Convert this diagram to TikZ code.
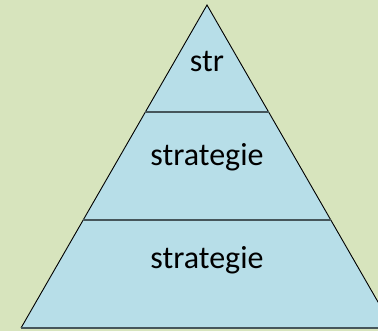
\documentclass[tikz,border=0pt]{standalone}
\usepackage{fontspec}
\setmainfont{Carlito}
\definecolor{bg}{HTML}{D7E4BD}
\definecolor{tier}{HTML}{B7DEE8}
\definecolor{divider}{HTML}{46565B}
\begin{document}
\begin{tikzpicture}[x=1pt,y=1pt,
  label/.style={font=\fontsize{32}{36}\selectfont, text=black, anchor=base, inner sep=0pt},
  side/.style={draw=black, line width=0.9pt},
  divline/.style={draw=divider, line width=2.2pt}]
\fill[bg] (0,0) rectangle (378,331);
\useasboundingbox (0,0) rectangle (378,331);
\clip (0,0) rectangle (378,331);
\coordinate (apex) at (207,326);
\coordinate (bl) at (21,3);
\coordinate (br) at (393,3);
\fill[tier] (apex) -- (bl) -- (br) -- cycle;
\draw[side] (bl) -- (apex) -- (br);
\draw[divline] (bl) -- (br);
\coordinate (d1l) at (145.4,219);
\coordinate (d1r) at (268.6,219);
\coordinate (d2l) at (83.2,111);
\coordinate (d2r) at (330.8,111);
\draw[divline] (d1l) -- (d1r);
\draw[divline] (d2l) -- (d2r);
\node[label] (t1) at (207,259) {str};
\node[label] (t2) at (207,165) {strategie};
\node[label] (t3) at (207,62) {strategie};
\end{tikzpicture}
\end{document}
